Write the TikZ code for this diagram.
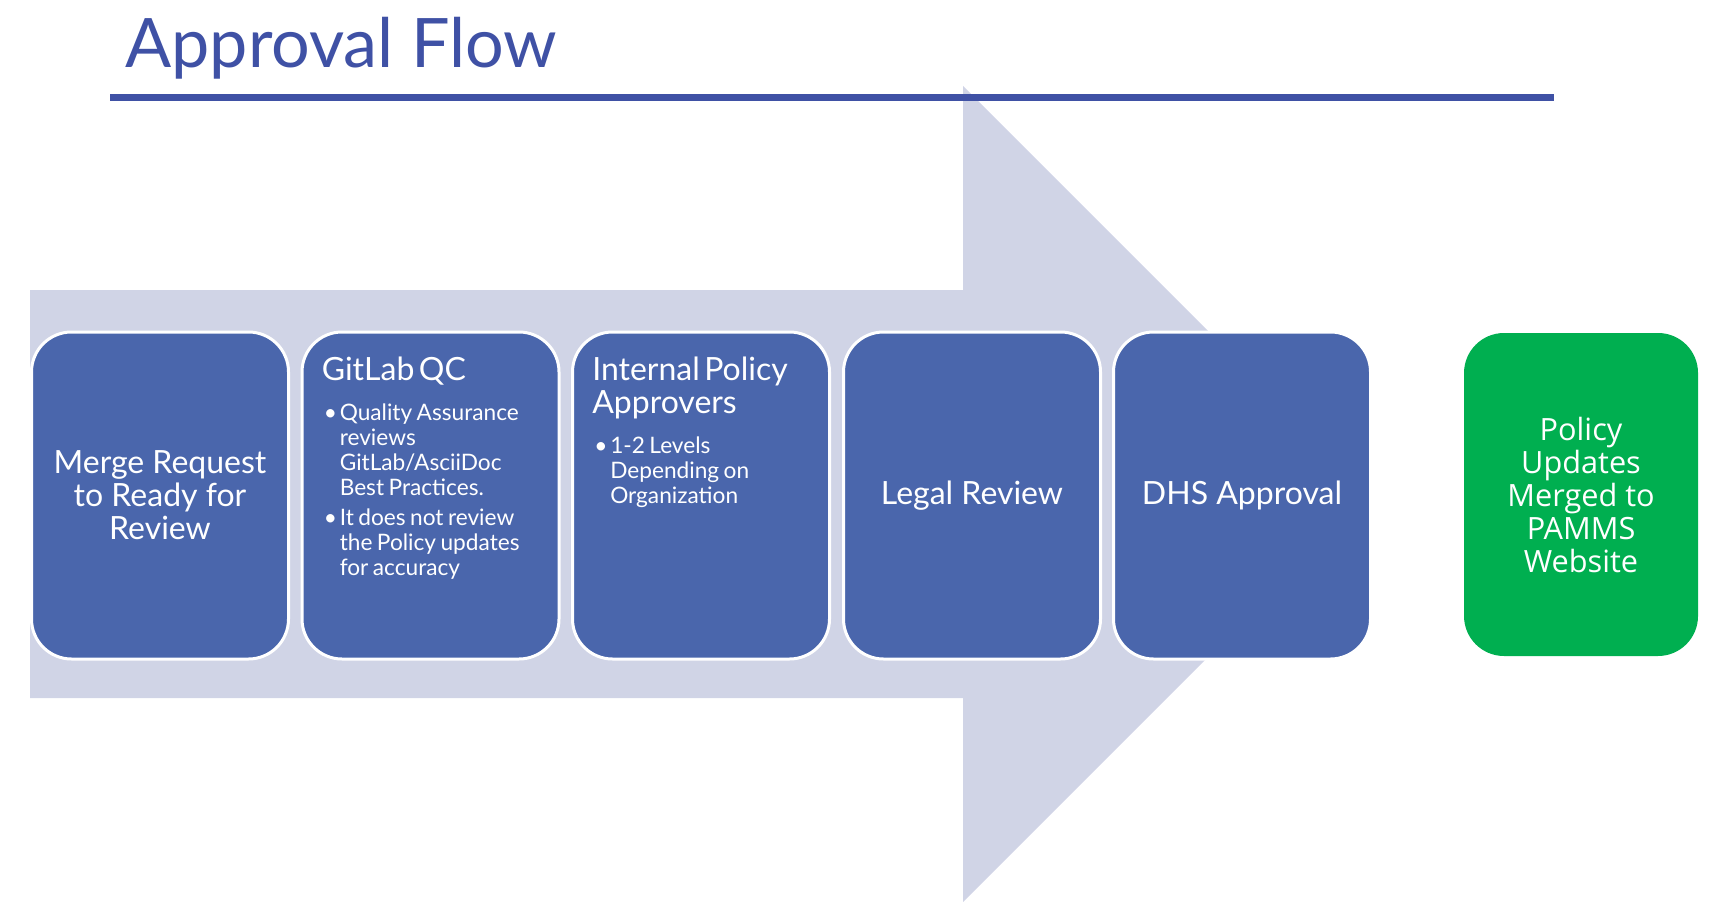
\documentclass[tikz,border=0pt]{standalone}
\usepackage{fontspec}
\setmainfont{Lato}
\newfontfamily\greenfont{Open Sans}
\usepackage{tikz}
\usetikzlibrary{positioning}

\definecolor{boxblue}{HTML}{4A66AC}
\definecolor{titleblue}{HTML}{3F51A5}
\definecolor{arrowgray}{HTML}{D0D4E6}
\definecolor{donegreen}{HTML}{00AF50}

\newcommand\headline{\fontsize{24}{24.75}\selectfont}
\newcommand\greenline{\fontsize{23}{24.75}\selectfont}
\newcommand\pointline{\fontsize{17}{18.75}\selectfont}
\newcommand\bulitem[1]{\par\hangindent=13.5pt\hangafter=1\noindent\makebox[13.5pt][l]{\hspace{1.5pt}•}#1\par}

\begin{document}
\begin{tikzpicture}[x=0.75pt, y=-0.75pt,
  stepbox/.style={draw=white, line width=2.25pt, fill=boxblue, rounded corners=30pt,
    minimum width=192.75pt, minimum height=245.25pt, inner sep=0pt,
    text=white, align=center, font=\headline},
  stepnote/.style={anchor=north west, inner sep=0pt, text width=178pt, align=left, text=white},
  donebox/.style={fill=donegreen, rounded corners=30pt,
    minimum width=175.5pt, minimum height=242.25pt, inner sep=0pt,
    text=white, align=center, font=\greenfont\greenline}]

\useasboundingbox (0,0) rectangle (1733,902);

\fill[arrowgray] (30,290) -- (963,290) -- (963,86) -- (1371,494) -- (963,902) -- (963,698) -- (30,698) -- cycle;

\draw (125,68) node (title) [anchor=base west, inner sep=0pt, text=titleblue, font=\fontsize{51.2}{60}\selectfont] {Approval Flow};
\draw[titleblue, line width=5.25pt] (110,97.5) -- (1554,97.5);

\draw (160,495.5)   node (11) [stepbox] {Merge Request\\to Ready for\\Review};
\draw (430.5,495.5) node (12) [stepbox] {};
\draw (701,495.5)   node (13) [stepbox] {};
\draw (972,495.5)   node (14) [stepbox] {Legal Review};
\draw (1242,495.5)  node (15) [stepbox] {DHS Approval};
\draw (1581,494.5)  node (16) [donebox] {Policy\\Updates\\Merged to\\PAMMS\\Website};

\draw ([shift={(21,26)}]12.north west) node (22) [stepnote] {%
  {\headline GitLab QC\par}
  \vspace{11.25pt}
  \pointline
  \bulitem{Quality Assurance\newline reviews\newline GitLab/AsciiDoc\newline Best Practices.}
  \vspace{3.75pt}
  \bulitem{It does not review\newline the Policy updates\newline for accuracy}};

\draw ([shift={(21,26)}]13.north west) node (23) [stepnote] {%
  {\headline Internal Policy\par Approvers\par}
  \vspace{11.25pt}
  \pointline
  \bulitem{1-2 Levels\newline Depending on\newline Organization}};

\end{tikzpicture}
\end{document}
